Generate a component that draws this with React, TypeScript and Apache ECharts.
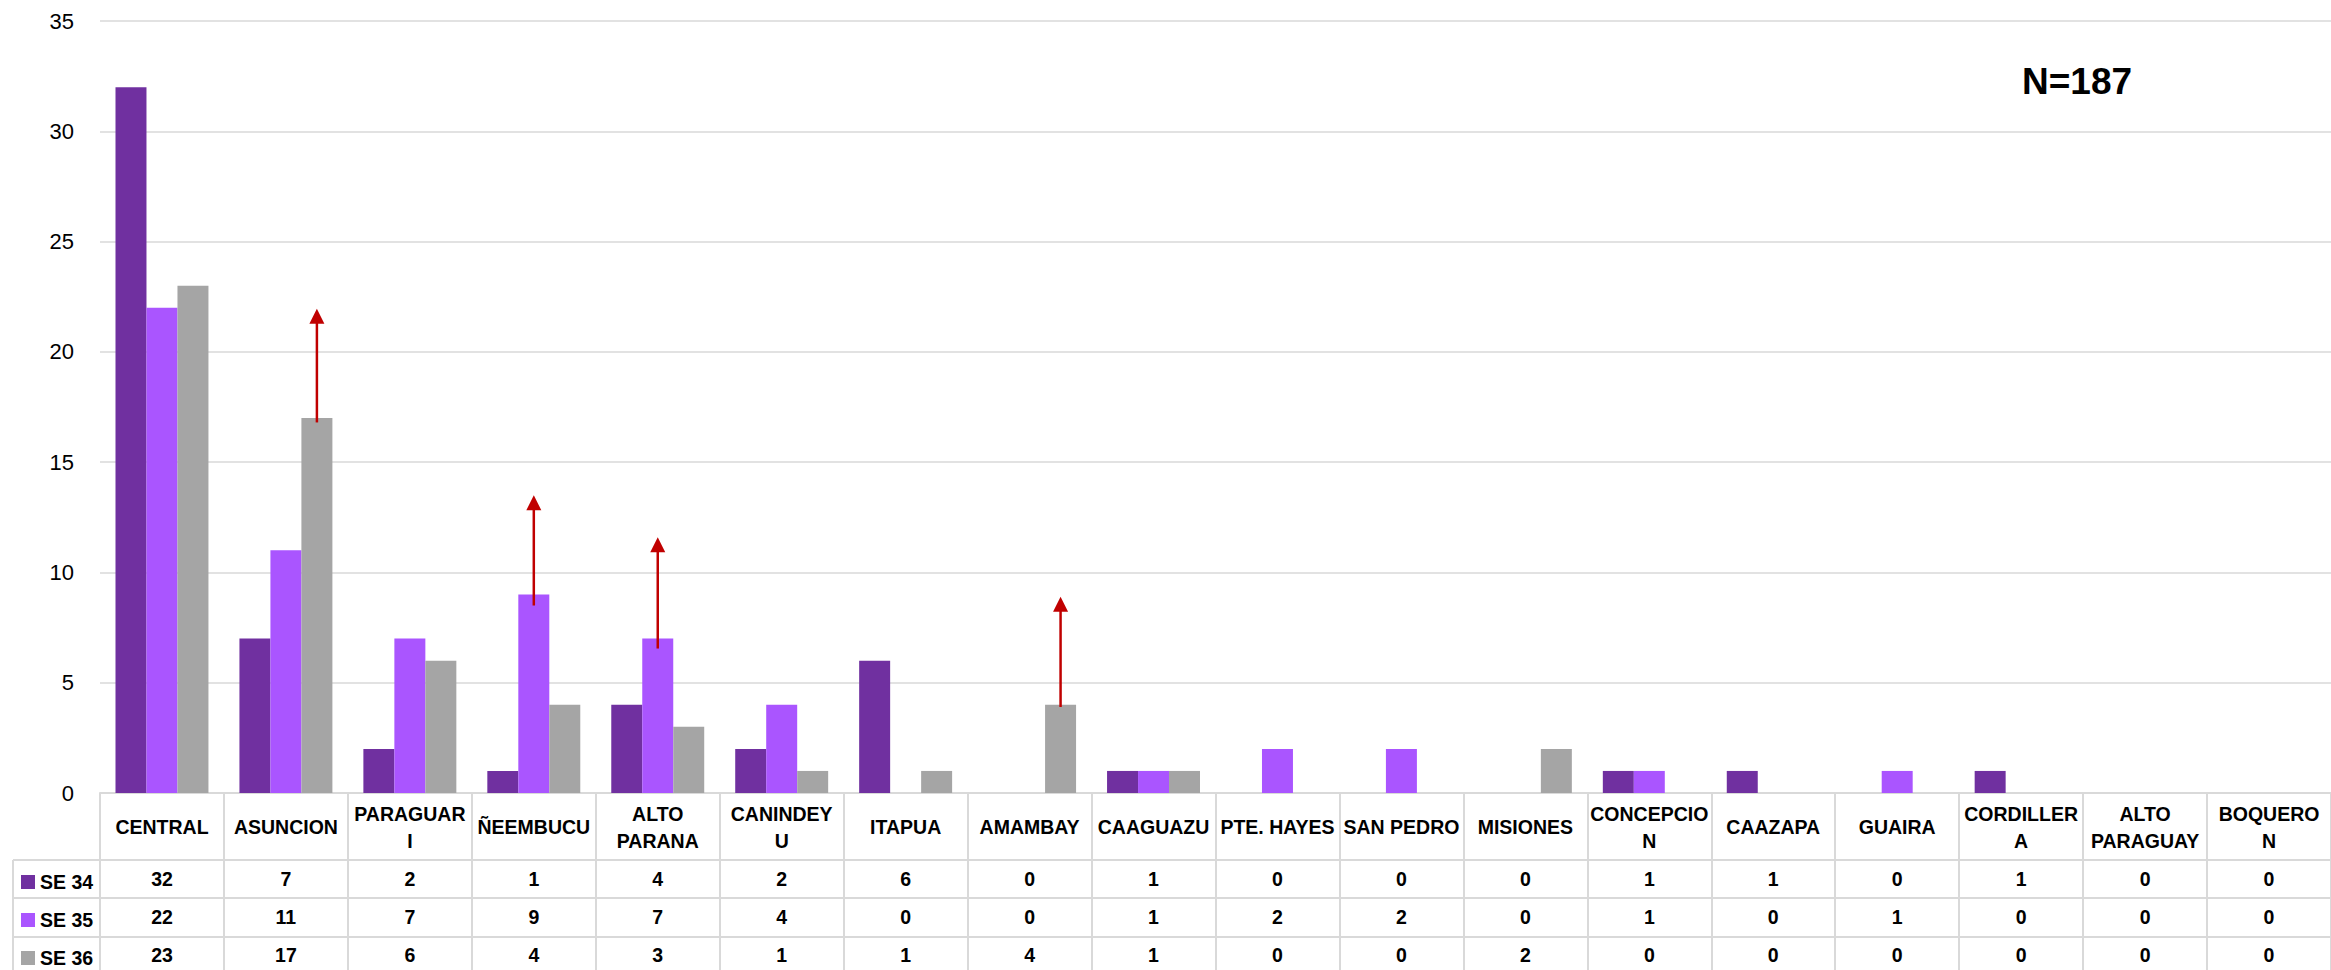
import React, { useEffect, useRef } from "react";
import * as echarts from "echarts";

const categories = [
  "CENTRAL", "ASUNCION", "PARAGUAR\nI", "ÑEEMBUCU", "ALTO\nPARANA", "CANINDEY\nU",
  "ITAPUA", "AMAMBAY", "CAAGUAZU", "PTE. HAYES", "SAN PEDRO", "MISIONES",
  "CONCEPCIO\nN", "CAAZAPA", "GUAIRA", "CORDILLER\nA", "ALTO\nPARAGUAY", "BOQUERO\nN",
];
const se34 = [32, 7, 2, 1, 4, 2, 6, 0, 1, 0, 0, 0, 1, 1, 0, 1, 0, 0];
const se35 = [22, 11, 7, 9, 7, 4, 0, 0, 1, 2, 2, 0, 1, 0, 1, 0, 0, 0];
const se36 = [23, 17, 6, 4, 3, 1, 1, 4, 1, 0, 0, 2, 0, 0, 0, 0, 0, 0];
const seriesNames = ["SE 34", "SE 35", "SE 36"];
const seriesColors = ["#7030A0", "#AA55FF", "#A5A5A5"];
const yTicks = { min: 0, max: 35, interval: 5 };
// arrows: [category index, series index, from value, to value]
const arrows = [
  [1, 2, 16.8, 21.95],
  [3, 1, 8.5, 13.5],
  [4, 1, 6.55, 11.6],
  [7, 2, 3.9, 8.9],
];
const totalLabel = "N=187";

const W = 2331;
const H = 970;

export default function App() {
  const ref = useRef<HTMLDivElement>(null);
  useEffect(() => {
    if (!ref.current) return;
    const chart = echarts.init(ref.current, null, { renderer: "svg" });
    const tableFont = "'Liberation Sans', Arial, sans-serif";
    const tableSize = 19.5;
    const gridLeft = 100;
    const gridTop = 21;
    const zeroY = 793;
    const colW = 124.75;
    const lineColor = "#D9D9D9";
    const rows = [se34, se35, se36];
    const rowMargins = [86, 124, 162];
    const rowCenters = [879, 917, 955];

    const valueAxes = rows.map((row, k) => ({
      type: "category",
      gridIndex: 0,
      position: "bottom",
      data: categories,
      axisLine: { show: false },
      axisTick: { show: false },
      splitLine: { show: false },
      axisLabel: {
        interval: 0,
        margin: rowMargins[k],
        verticalAlign: "middle",
        color: "#000",
        fontFamily: tableFont,
        fontWeight: "bold",
        fontSize: tableSize,
        formatter: (_v: string, i: number) => String(row[i]),
      },
    }));

    const legends = seriesNames.map((name, k) => ({
      data: [name],
      orient: "horizontal",
      left: 21,
      top: rowCenters[k] - 7,
      padding: 0,
      icon: "rect",
      itemWidth: 14,
      itemHeight: 14,
      selectedMode: false,
      textStyle: {
        color: "#000",
        fontFamily: tableFont,
        fontWeight: "bold",
        fontSize: tableSize,
        lineHeight: 14,
      },
    }));

    const option: any = {
      animation: false,
      backgroundColor: "#fff",
      grid: { left: gridLeft, top: gridTop, width: colW * categories.length, height: zeroY - gridTop },
      legend: legends,
      xAxis: [
        {
          type: "category",
          gridIndex: 0,
          position: "bottom",
          data: categories,
          boundaryGap: true,
          axisLine: { show: true, lineStyle: { color: lineColor, width: 2 } },
          axisTick: { show: true, interval: 0, length: 190, lineStyle: { color: lineColor, width: 2 } },
          axisLabel: {
            interval: 0,
            margin: 34,
            verticalAlign: "middle",
            align: "center",
            color: "#000",
            fontFamily: tableFont,
            fontWeight: "bold",
            fontSize: tableSize,
            lineHeight: 27,
          },
        },
        ...valueAxes,
      ],
      yAxis: {
        type: "value",
        min: yTicks.min,
        max: yTicks.max,
        interval: yTicks.interval,
        axisLine: { show: false },
        axisTick: { show: false },
        splitLine: { show: true, lineStyle: { color: lineColor, width: 1.5 } },
        axisLabel: {
          margin: 26,
          color: "#000",
          fontFamily: "'Liberation Sans', Arial, sans-serif",
          fontSize: 22,
        },
      },
      series: [
        ...rows.map((row, k) => ({
          name: seriesNames[k],
          type: "bar",
          xAxisIndex: 0,
          yAxisIndex: 0,
          data: row,
          barGap: "0%",
          barCategoryGap: "25%",
          itemStyle: { color: seriesColors[k] },
        })),
        {
          type: "custom",
          xAxisIndex: 0,
          yAxisIndex: 0,
          z: 10,
          data: arrows,
          encode: { x: 0, y: 2 },
          renderItem: (_params: any, api: any) => {
            const cat = api.value(0);
            const s = api.value(1);
            const p0 = api.coord([cat, api.value(2)]);
            const p1 = api.coord([cat, api.value(3)]);
            const band = api.size([1, 0])[0];
            const barW = (band * 0.75) / 3;
            const x = p0[0] + (s - 1) * barW;
            const tipY = p1[1];
            const headH = 15;
            const headW = 15;
            return {
              type: "group",
              children: [
                {
                  type: "line",
                  shape: { x1: x, y1: p0[1], x2: x, y2: tipY + headH - 1 },
                  style: { stroke: "#C00000", lineWidth: 2.5 },
                },
                {
                  type: "polygon",
                  shape: {
                    points: [
                      [x, tipY],
                      [x - headW / 2, tipY + headH],
                      [x + headW / 2, tipY + headH],
                    ],
                  },
                  style: { fill: "#C00000" },
                },
              ],
            };
          },
        },
      ],
      graphic: [
        ...[860, 898, 937].map((y) => ({
          type: "line",
          shape: { x1: 13, y1: y, x2: W, y2: y },
          style: { stroke: lineColor, lineWidth: 2 },
        })),
        {
          type: "line",
          shape: { x1: 13, y1: 860, x2: 13, y2: H },
          style: { stroke: lineColor, lineWidth: 2 },
        },
        {
          type: "rect",
          shape: { x: 2003, y: 47, width: 199, height: 65 },
          style: { fill: "#fff" },
        },
        {
          type: "text",
          x: 2022,
          y: 81,
          style: {
            text: totalLabel,
            fill: "#000",
            font: "bold 37px 'Liberation Sans', Arial, sans-serif",
            verticalAlign: "middle",
          },
        },
      ],
    };
    chart.setOption(option);
    return () => chart.dispose();
  }, []);
  return (
    <div
      ref={ref}
      style={{ position: "fixed", left: 0, top: 0, width: W, height: H, background: "#fff" }}
    />
  );
}
